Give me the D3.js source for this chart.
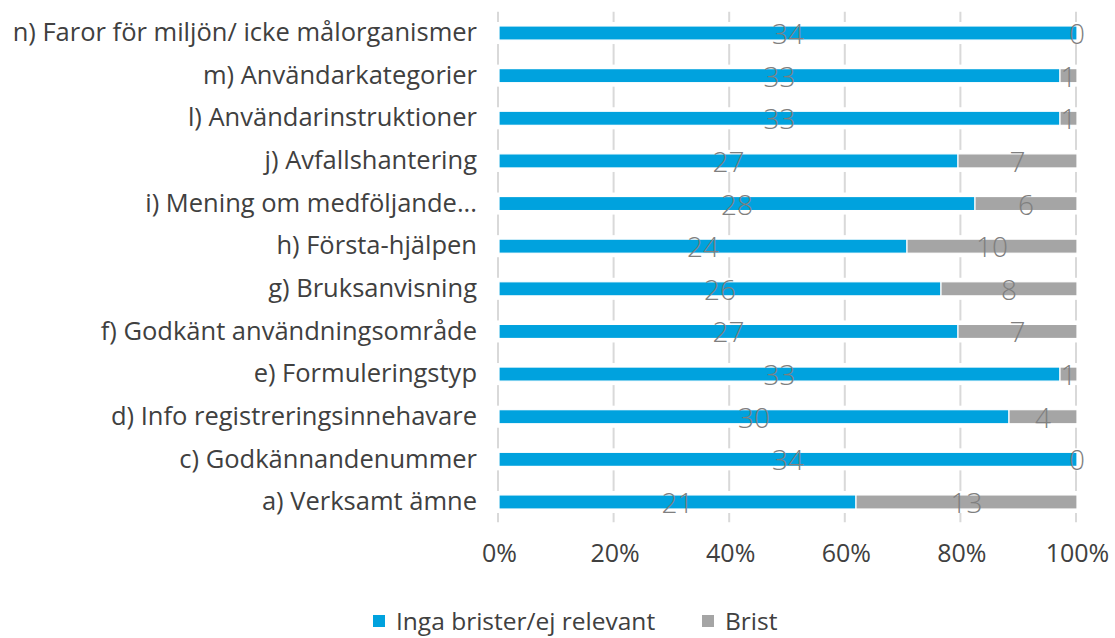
<!DOCTYPE html>
<html lang="sv">
<head>
<meta charset="UTF-8">
<title>Brister per kategori</title>
<style>
  body, html { margin: 0; padding: 0; background: #fff; }
  #svg { display: block; }
  text { font-family: 'Open Sans', sans-serif; }
</style>
</head>
<body>
<svg id="svg" width="1115" height="638"></svg>
<script src="https://d3js.org/d3.v7.min.js"></script>
<script>
// ----- DATA -----
const categories = [
  'n) Faror för miljön/ icke målorganismer',
  'm) Användarkategorier',
  'l) Användarinstruktioner',
  'j) Avfallshantering',
  'i) Mening om medföljande...',
  'h) Första-hjälpen',
  'g) Bruksanvisning',
  'f) Godkänt användningsområde',
  'e) Formuleringstyp',
  'd) Info registreringsinnehavare',
  'c) Godkännandenummer',
  'a) Verksamt ämne'
]
const ingaBrister = [34, 33, 33, 27, 28, 24, 26, 27, 33, 30, 34, 21]
const brist = [0, 1, 1, 7, 6, 10, 8, 7, 1, 4, 0, 13]
const seriesNames = ['Inga brister/ej relevant', 'Brist']
const tickValues = [0, 0.2, 0.4, 0.6, 0.8, 1]

const colors = ['#00a2de', '#a5a5a5']

// ----- LAYOUT -----
const svg = d3.select('#svg')
const x0 = 499, x1 = 1077
const yTop = 11.7, yBottom = 523.3

const rows = categories.map((c, i) => {
  const total = ingaBrister[i] + brist[i]
  return { cat: c, vals: [ingaBrister[i], brist[i]], total: total }
})

const xScale = d3.scaleLinear().domain([0, 1]).range([x0, x1])
const yScale = d3.scaleBand()
  .domain(categories)
  .range([yTop, yBottom])
  .paddingInner(0.67)
  .paddingOuter(0.335)

// ----- GRIDLINES -----
const grid = svg.append('g')
grid.selectAll('line')
  .data(tickValues)
  .enter()
  .append('line')
  .attr('x1', d => xScale(d) - 1)
  .attr('x2', d => xScale(d) - 1)
  .attr('y1', yTop)
  .attr('y2', yBottom - 1)
  .attr('stroke', '#d9d9d9')
  .attr('stroke-width', 2)

// white halo behind each bar row so gridlines break around the bars
svg.append('g')
  .selectAll('rect')
  .data(rows)
  .enter()
  .append('rect')
  .attr('x', x0 - 4)
  .attr('width', x1 - x0 + 8)
  .attr('y', d => yScale(d.cat) - 4)
  .attr('height', yScale.bandwidth() + 8)
  .attr('fill', '#fff')

// ----- BARS -----
const segs = []
rows.forEach(r => {
  let acc = 0
  r.vals.forEach((v, k) => {
    segs.push({ cat: r.cat, k: k, v: v, start: acc / r.total, end: (acc + v) / r.total })
    acc += v
  })
})

svg.append('g')
  .selectAll('rect')
  .data(segs.filter(s => s.v > 0))
  .enter()
  .append('rect')
  .attr('x', d => xScale(d.start))
  .attr('width', d => xScale(d.end) - xScale(d.start))
  .attr('y', d => yScale(d.cat))
  .attr('height', yScale.bandwidth())
  .attr('fill', d => colors[d.k])
  .attr('stroke', '#fff')
  .attr('stroke-width', 1.2)

// data labels
svg.append('g')
  .selectAll('text')
  .data(segs)
  .enter()
  .append('text')
  .attr('x', d => (xScale(d.start) + xScale(d.end)) / 2)
  .attr('y', d => yScale(d.cat) + yScale.bandwidth() / 2 + 11)
  .attr('text-anchor', 'middle')
  .style('font-size', '28px')
  .style('font-weight', 300)
  .style('fill', '#7f7f7f')
  .text(d => d.v)

// ----- AXES -----
const leftAxis = d3.axisLeft(yScale).tickSize(0).tickPadding(22)
const gy = svg.append('g')
  .attr('transform', `translate(${x0}, 0)`)
  .call(leftAxis)
gy.select('.domain').remove()
gy.selectAll('text')
  .style('font-size', '25.5px')
  .style('font-family', "'Open Sans', sans-serif")
  .style('fill', '#404040')

const bottomAxis = d3.axisBottom(xScale)
  .tickValues(tickValues)
  .tickFormat(d3.format('.0%'))
  .tickSize(0)
  .tickPadding(0)
const gx = svg.append('g')
  .attr('transform', `translate(0, 544)`)
  .call(bottomAxis)
gx.select('.domain').remove()
gx.selectAll('text')
  .style('font-size', '25px')
  .style('font-family', "'Open Sans', sans-serif")
  .style('fill', '#404040')

// ----- LEGEND -----
const legendX = [373, 702]
const legend = svg.append('g')
  .selectAll('g')
  .data(seriesNames)
  .enter()
  .append('g')
  .attr('transform', (d, i) => `translate(${legendX[i]}, 615)`)
legend.append('rect')
  .attr('width', 12)
  .attr('height', 12)
  .attr('fill', (d, i) => colors[i])
legend.append('text')
  .attr('x', 23)
  .attr('y', 14.5)
  .style('font-size', '24.5px')
  .style('fill', '#404040')
  .text(d => d)
</script>
</body>
</html>
